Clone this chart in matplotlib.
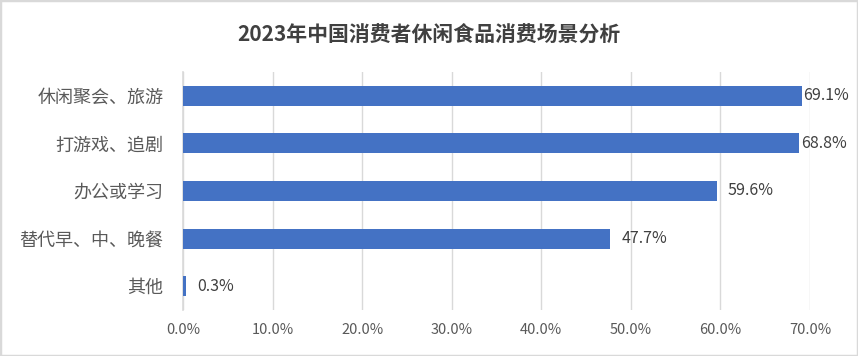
import matplotlib
matplotlib.use("Agg")
import matplotlib.pyplot as plt
from matplotlib.patches import Rectangle
from matplotlib.ticker import FuncFormatter

plt.rcParams['font.family'] = ['Noto Sans CJK SC', 'DejaVu Sans']

# data (top to bottom as shown)
categories = ['休闲聚会、旅游', '打游戏、追剧', '办公或学习', '替代早、中、晚餐', '其他']
values = [69.1, 68.8, 59.6, 47.7, 0.3]
x_ticks = [0, 10, 20, 30, 40, 50, 60, 70]

BAR = '#4472C4'
GRID = '#D9D9D9'
TXT = '#595959'

fig = plt.figure(figsize=(8.58, 3.56), dpi=100)
fig.patches.append(Rectangle((0, 0), 1, 1, transform=fig.transFigure,
                             fill=False, edgecolor='#D9D9D9', linewidth=2.5))

ax = fig.add_axes([0.2133, 0.1292, 0.7308, 0.6686])
ypos = list(range(len(categories)))
ax.barh(ypos, values, height=0.42, color=BAR, zorder=3)
ax.set_ylim(len(categories) - 0.5, -0.5)
ax.set_xlim(0, 70)
ax.set_xticks(x_ticks)
ax.xaxis.set_major_formatter(FuncFormatter(lambda v, p: f'{v:.1f}%'))
ax.set_yticks(ypos)
ax.set_yticklabels(categories)
ax.tick_params(axis='both', length=0, colors=TXT)
ax.tick_params(axis='x', labelsize=10.5, pad=9)
ax.tick_params(axis='y', labelsize=13, pad=14)
ax.grid(axis='x', color=GRID, linewidth=1, zorder=0)
for s in ['top', 'right', 'bottom']:
    ax.spines[s].set_visible(False)
ax.spines['left'].set_color(GRID)
ax.spines['left'].set_linewidth(1.2)

# value labels; the top two are squeezed against the plot edge
offsets = [0.5, 1, 8, 8, 8]
for y, v, off in zip(ypos, values, offsets):
    ax.annotate(f'{v}%', (v, y), xytext=(off, 0), textcoords='offset points',
                va='center', ha='left', fontsize=11.5, color='#404040',
                annotation_clip=False)

fig.text(0.5, 0.9, '2023年中国消费者休闲食品消费场景分析', ha='center', va='center',
         fontsize=15, fontweight='bold', color='#404040')

fig.savefig('out.png', dpi=100)
